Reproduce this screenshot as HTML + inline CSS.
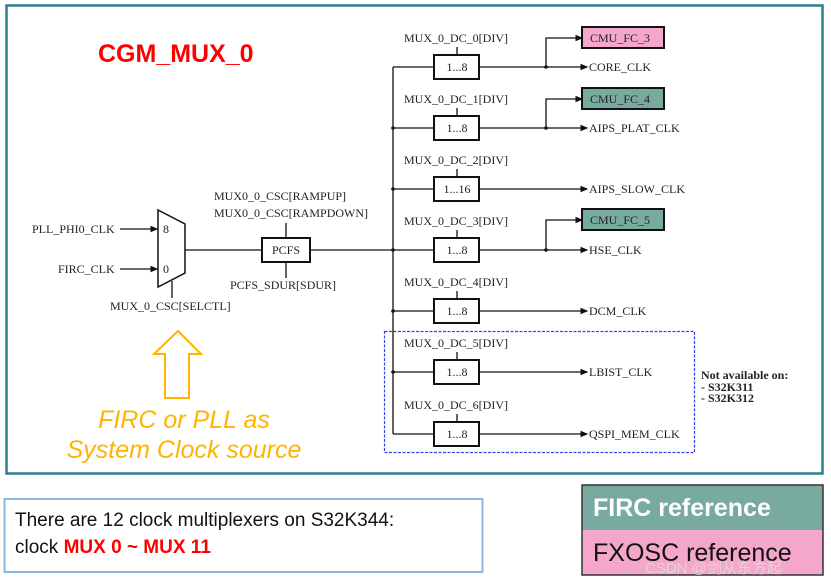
<!DOCTYPE html>
<html><head><meta charset="utf-8"><style>
html,body{margin:0;padding:0;background:#fff;}
svg{display:block;}
.t{font-family:"Liberation Serif",serif;font-size:12px;fill:#222;}
</style></head><body>
<svg width="831" height="583" viewBox="0 0 831 583" xmlns="http://www.w3.org/2000/svg">
<defs><marker id="a" markerWidth="6" markerHeight="6" refX="5" refY="3" orient="auto"><path d="M0,0.5 L6,3 L0,5.5z" fill="#111"/></marker></defs>
<rect x="6.5" y="5.5" width="816" height="468" fill="#fff" stroke="#2a7f8f" stroke-width="2.5"/>
<text x="98" y="62" font-family="Liberation Sans,sans-serif" font-weight="bold" font-size="25" fill="#f00">CGM_MUX_0</text>

<line x1="120" y1="229" x2="157" y2="229" stroke="#111" stroke-width="1.3" marker-end="url(#a)"/>
<line x1="120" y1="269" x2="157" y2="269" stroke="#111" stroke-width="1.3" marker-end="url(#a)"/>
<text class="t" x="32" y="233">PLL_PHI0_CLK</text>
<text class="t" x="58" y="273">FIRC_CLK</text>
<path d="M158,210 L185,224 L185,273 L158,287 Z" fill="#fff" stroke="#111" stroke-width="1.5"/>
<text class="t" x="163" y="233">8</text>
<text class="t" x="163" y="273">0</text>
<line x1="172" y1="281" x2="172" y2="298" stroke="#111" stroke-width="1.3"/>
<text class="t" x="110" y="310">MUX_0_CSC[SELCTL]</text>
<line x1="185" y1="250" x2="393" y2="250" stroke="#111" stroke-width="1.3"/>
<rect x="262" y="238" width="48" height="24" fill="#fff" stroke="#111" stroke-width="2"/>
<text class="t" x="286" y="254" text-anchor="middle">PCFS</text>
<line x1="286" y1="223" x2="286" y2="238" stroke="#111" stroke-width="1.3"/>
<line x1="286" y1="262" x2="286" y2="278" stroke="#111" stroke-width="1.3"/>
<text class="t" x="214" y="200">MUX0_0_CSC[RAMPUP]</text>
<text class="t" x="214" y="217">MUX0_0_CSC[RAMPDOWN]</text>
<text class="t" x="230" y="289">PCFS_SDUR[SDUR]</text>

<line x1="393" y1="67" x2="393" y2="434" stroke="#111" stroke-width="1.3"/>
<g stroke="#111" stroke-width="1.3" fill="none">
<line x1="393" y1="67" x2="434" y2="67"/><line x1="393" y1="128" x2="434" y2="128"/><line x1="393" y1="189" x2="434" y2="189"/><line x1="393" y1="250" x2="434" y2="250"/><line x1="393" y1="311" x2="434" y2="311"/><line x1="393" y1="372" x2="434" y2="372"/><line x1="393" y1="434" x2="434" y2="434"/>
<line x1="457" y1="47" x2="457" y2="55"/><line x1="457" y1="108" x2="457" y2="116"/><line x1="457" y1="169" x2="457" y2="177"/><line x1="457" y1="230" x2="457" y2="238"/><line x1="457" y1="291" x2="457" y2="299"/><line x1="457" y1="352" x2="457" y2="360"/><line x1="457" y1="414" x2="457" y2="422"/>
</g>
<g fill="#111"><circle cx="393" cy="128" r="1.8"/><circle cx="393" cy="189" r="1.8"/><circle cx="393" cy="250" r="1.8"/><circle cx="393" cy="311" r="1.8"/><circle cx="393" cy="372" r="1.8"/>
<circle cx="546" cy="67" r="1.8"/><circle cx="546" cy="128" r="1.8"/><circle cx="546" cy="250" r="1.8"/></g>
<g stroke="#111" stroke-width="1.3" fill="none" marker-end="url(#a)">
<line x1="479" y1="67" x2="587" y2="67"/><line x1="479" y1="128" x2="587" y2="128"/><line x1="479" y1="189" x2="587" y2="189"/><line x1="479" y1="250" x2="587" y2="250"/><line x1="479" y1="311" x2="587" y2="311"/><line x1="479" y1="372" x2="587" y2="372"/><line x1="479" y1="434" x2="587" y2="434"/>
<path d="M546,67 V38 H582"/><path d="M546,128 V99 H582"/><path d="M546,250 V220 H582"/>
</g>
<g fill="#fff" stroke="#111" stroke-width="2">
<rect x="434" y="55" width="45" height="24"/><rect x="434" y="116" width="45" height="24"/><rect x="434" y="177" width="45" height="24"/><rect x="434" y="238" width="45" height="24"/><rect x="434" y="299" width="45" height="24"/><rect x="434" y="360" width="45" height="24"/><rect x="434" y="422" width="45" height="24"/>
</g>
<g class="t" text-anchor="middle">
<text x="457" y="71">1...8</text><text x="457" y="132">1...8</text><text x="457" y="193">1...16</text><text x="457" y="254">1...8</text><text x="457" y="315">1...8</text><text x="457" y="376">1...8</text><text x="457" y="438">1...8</text>
</g>
<g class="t">
<text x="404" y="42">MUX_0_DC_0[DIV]</text><text x="404" y="103">MUX_0_DC_1[DIV]</text><text x="404" y="164">MUX_0_DC_2[DIV]</text><text x="404" y="225">MUX_0_DC_3[DIV]</text><text x="404" y="286">MUX_0_DC_4[DIV]</text><text x="404" y="347">MUX_0_DC_5[DIV]</text><text x="404" y="409">MUX_0_DC_6[DIV]</text>
<text x="589" y="71">CORE_CLK</text><text x="589" y="132">AIPS_PLAT_CLK</text><text x="589" y="193">AIPS_SLOW_CLK</text><text x="589" y="254">HSE_CLK</text><text x="589" y="315">DCM_CLK</text><text x="589" y="376">LBIST_CLK</text><text x="589" y="438">QSPI_MEM_CLK</text>
</g>
<rect x="582" y="27" width="82" height="21" fill="#f4a7cb" stroke="#111" stroke-width="2"/>
<rect x="582" y="88" width="82" height="21" fill="#79aaa0" stroke="#111" stroke-width="2"/>
<rect x="582" y="209" width="82" height="21" fill="#79aaa0" stroke="#111" stroke-width="2"/>
<text class="t" x="590" y="42">CMU_FC_3</text><text class="t" x="590" y="103">CMU_FC_4</text><text class="t" x="590" y="224">CMU_FC_5</text>
<rect x="384.5" y="331.5" width="310" height="121" fill="none" stroke="#3344ee" stroke-width="1.2" stroke-dasharray="3,1.5"/>
<g class="t" font-weight="bold" font-size="10.5"><text x="701" y="379">Not available on:</text><text x="701" y="391">- S32K311</text><text x="701" y="402">- S32K312</text></g>

<path d="M178,331 L201,354 L189,354 L189,398 L165,398 L165,354 L154,354 Z" fill="#fff" stroke="#ffb400" stroke-width="2"/>
<g font-family="Liberation Sans,sans-serif" font-style="italic" font-size="25" fill="#ffb400" text-anchor="middle">
<text x="184" y="428">FIRC or PLL as</text><text x="184" y="458">System Clock source</text></g>

<rect x="4.5" y="499" width="478" height="73" fill="#fff" stroke="#8ab8e0" stroke-width="2"/>
<g font-family="Liberation Sans,sans-serif" font-size="19" fill="#111">
<text x="15" y="526">There are 12 clock multiplexers on S32K344:</text>
<text x="15" y="553">clock <tspan fill="#f00" font-weight="bold">MUX 0 ~ MUX 11</tspan></text></g>

<rect x="582" y="485" width="241" height="45" fill="#79aaa0"/>
<rect x="582" y="530" width="241" height="45" fill="#f4a7cb"/>
<rect x="582" y="485" width="241" height="90" fill="none" stroke="#333" stroke-width="1.5"/>
<text x="593" y="516" font-family="Liberation Sans,sans-serif" font-weight="bold" font-size="25" fill="#fff">FIRC reference</text>
<text x="593" y="561" font-family="Liberation Sans,sans-serif" font-size="25" fill="#111">FXOSC reference</text>
<text x="645" y="573" font-family="Liberation Sans,'Noto Sans CJK SC',sans-serif" font-size="15" fill="#ddd" fill-opacity="0.85">CSDN @剑从东方起</text>
</svg>
</body></html>
